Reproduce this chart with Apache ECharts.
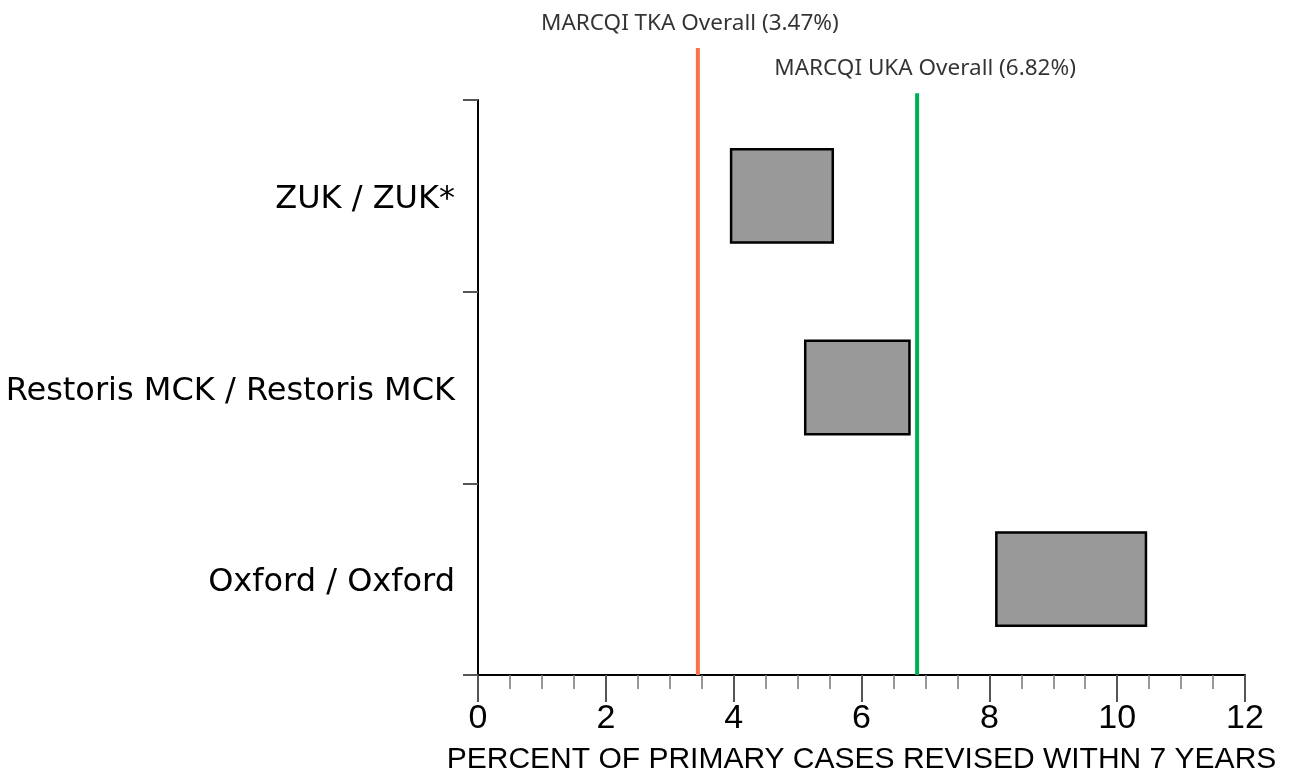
<!DOCTYPE html>
<html>
<head>
<meta charset="utf-8">
<script src="https://cdn.jsdelivr.net/npm/echarts@6/dist/echarts.min.js"></script>
<style>html,body{margin:0;padding:0;background:#fff;}#chart{width:1291px;height:777px;}</style>
</head>
<body>
<div id="chart"></div>
<script>
// ---- data ----
const categories = ['ZUK / ZUK*', 'Restoris MCK / Restoris MCK', 'Oxford / Oxford'];
const rangeStart = [3.94, 5.10, 8.09];
const rangeEnd = [5.57, 6.77, 10.47];
const refNames = ['MARCQI TKA Overall (3.47%)', 'MARCQI UKA Overall (6.82%)'];
const refValues = [3.44, 6.87];
const refHeights = [100, 92.8];
const refColors = ['#F87148', '#00B050'];
const xTicks = [0, 2, 4, 6, 8, 10, 12];
const xTitle = 'PERCENT OF PRIMARY CASES REVISED WITHN 7 YEARS';

const rangeLen = rangeStart.map((s, i) => +(rangeEnd[i] - s).toFixed(2));
const labelOffsets = [[-8, 0], [8, 0]];

const chart = echarts.init(document.getElementById('chart'), null, {renderer: 'canvas'});

const refSeries = [];
refValues.forEach((v, i) => {
  refSeries.push({
    type: 'line', xAxisIndex: 1, yAxisIndex: 1, symbol: 'none', silent: true,
    lineStyle: {color: refColors[i], width: 4},
    data: [[v, 0], [v, refHeights[i]]], z: 1
  });
  refSeries.push({
    type: 'scatter', xAxisIndex: 1, yAxisIndex: 1, symbolSize: 0, silent: true,
    data: [[v, refHeights[i]]],
    label: {show: true, position: 'top', distance: 13, offset: labelOffsets[i], formatter: refNames[i],
      fontFamily: 'Noto Sans', fontSize: 22.5, color: '#000'}
  });
});

chart.setOption({
  animation: false,
  backgroundColor: '#fff',
  grid: [
    {left: 478, right: 46, top: 100, bottom: 102, outerBoundsMode: 'none', containLabel: false},
    {left: 478, right: 46, top: 48, bottom: 102, outerBoundsMode: 'none', containLabel: false}
  ],
  xAxis: [{
    type: 'value', gridIndex: 0, min: xTicks[0], max: xTicks[xTicks.length - 1], interval: 2,
    axisLine: {show: true, lineStyle: {color: '#000', width: 2}},
    axisTick: {show: true, length: 27, lineStyle: {color: '#555', width: 2}},
    minorTick: {show: true, splitNumber: 4, length: 14, lineStyle: {color: '#777', width: 1.5}},
    splitLine: {show: false},
    axisLabel: {margin: 27, fontFamily: 'Liberation Sans Narrow, Liberation Sans', fontSize: 34, color: '#000'},
    name: xTitle, nameLocation: 'middle', nameGap: 70,
    nameTextStyle: {fontFamily: 'Liberation Sans Narrow, Liberation Sans', fontSize: 30, color: '#000'}
  }, {
    type: 'value', gridIndex: 1, min: 0, max: 12, show: false
  }],
  yAxis: [{
    type: 'category', gridIndex: 0, data: categories, inverse: true,
    axisLine: {show: true, lineStyle: {color: '#000', width: 2}},
    axisTick: {show: true, length: 15, lineStyle: {color: '#555', width: 2}},
    axisLabel: {margin: 23, formatter: v => '{a|' + v + '}',
      rich: {a: {fontFamily: 'DejaVu Sans', fontSize: 32, color: '#000', padding: [8, 0, 0, 0]}}},
    splitLine: {show: false}
  }, {
    type: 'value', gridIndex: 1, min: 0, max: 100, show: false
  }],
  series: [
    {type: 'bar', stack: 'r', data: rangeStart, barWidth: '50%', silent: true,
      itemStyle: {color: 'transparent', borderWidth: 0}, z: 2},
    {type: 'bar', stack: 'r', data: rangeLen, barWidth: '50%', silent: true,
      itemStyle: {color: '#999999', borderColor: '#000', borderWidth: 2.5}, z: 2}
  ].concat(refSeries)
});
</script>
</body>
</html>
